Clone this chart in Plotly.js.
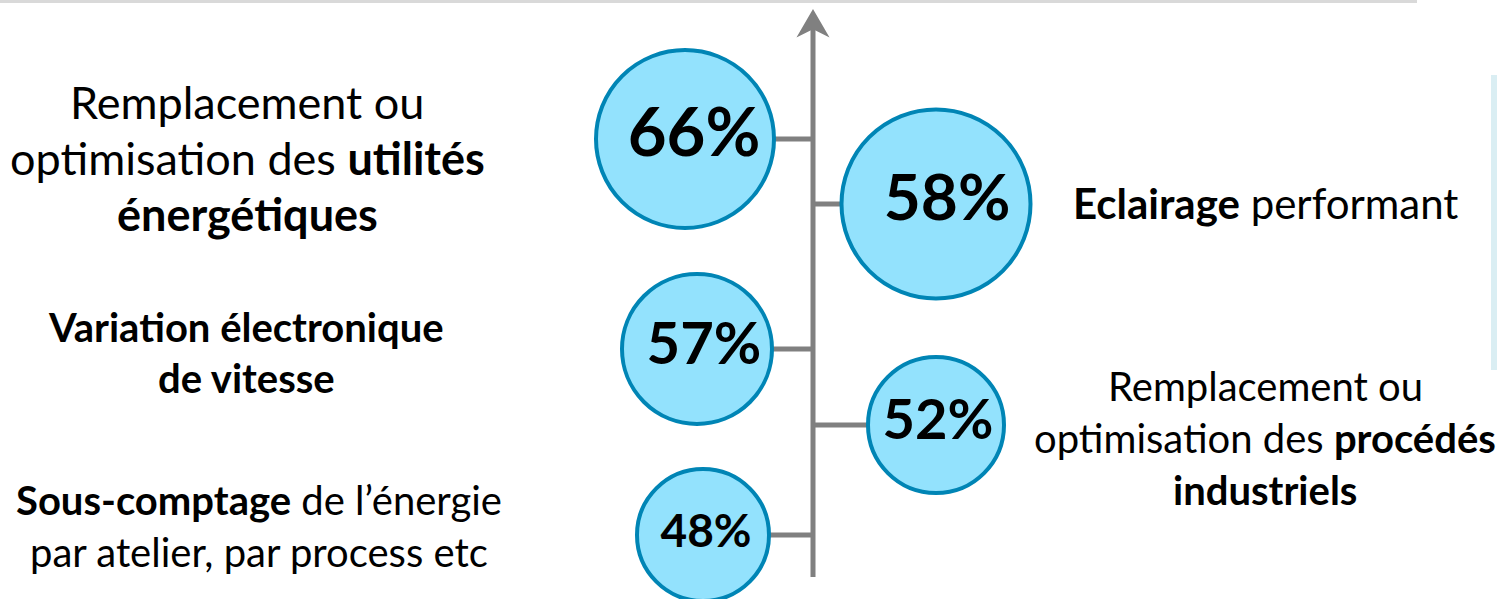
<!DOCTYPE html>
<html>
<head>
<meta charset="utf-8">
<script src="https://cdn.plot.ly/plotly-3.0.1.min.js"></script>
<style>
  html, body { margin: 0; padding: 0; background: #ffffff; }
  #chart { width: 1497px; height: 599px; }
</style>
</head>
<body>
<div id="chart"></div>
<script>
// ---- DATA ----
const categories = [
  "Remplacement ou optimisation des utilités énergétiques",
  "Eclairage performant",
  "Variation électronique de vitesse",
  "Remplacement ou optimisation des procédés industriels",
  "Sous-comptage de l’énergie par atelier, par process etc"
];
const values = [66, 58, 57, 52, 48];
const sides = ["left", "right", "left", "right", "left"];
const labelLines = [
  ["Remplacement ou", "optimisation des <b>utilités</b>", "<b>énergétiques</b>"],
  ["<b>Eclairage</b> performant"],
  ["<b>Variation électronique</b>", "<b>de vitesse</b>"],
  ["Remplacement ou", "optimisation des <b>procédés</b>", "<b>industriels</b>"],
  ["<b>Sous-comptage</b> de l’énergie", "par atelier, par process etc"]
];

// ---- LAYOUT / STYLE (not data) ----
const W = 1497, H = 599;
const axisX = 813;
const slotY = [139, 204, 349, 425, 535];          // vertical slot of each item
const circleX = [685, 936, 697, 936, 703];       // circle centre
const circleD = [178, 189, 150, 136, 132];       // marker diameter (px)
const pctSize = [67, 64, 58, 56, 46];            // % font size
const pctDx = [9, 11, 7, 2, 3];                  // % text offset
const labelX = [247, 1265, 246, 1265, 259];
const labelY = [158, 203, 352, 438, 526];
const labelSize = [45, 42, 40, 40, 40];
const lineGap = [56, 52, 51, 52, 52];

const circleFill = "#93E2FD";
const circleLine = "#0085B5";
const grey = "#808080";

// connectors (axis -> circle centre)
const cx = [], cy = [];
values.forEach((v, i) => {
  cx.push(axisX, circleX[i], null);
  cy.push(slotY[i], slotY[i], null);
});

const traces = [
  {
    type: "scatter", mode: "lines", x: cx, y: cy,
    line: { color: grey, width: 5 }, hoverinfo: "skip", showlegend: false
  },
  {
    type: "scatter", mode: "markers",
    x: circleX, y: slotY,
    marker: { size: circleD, color: circleFill, line: { color: circleLine, width: 4 }, opacity: 1 },
    hoverinfo: "skip", showlegend: false
  }
];
// percentage texts
values.forEach((v, i) => {
  traces.push({
    type: "scatter", mode: "text",
    x: [circleX[i] + pctDx[i]], y: [slotY[i]],
    text: ["<b>" + v + "%</b>"],
    textposition: "middle center",
    textfont: { family: "Lato, 'Open Sans', sans-serif", size: pctSize[i], color: "#000000" },
    hoverinfo: "skip", showlegend: false
  });
});

// category labels, one annotation per line
const annotations = [];
labelLines.forEach((lines, i) => {
  const n = lines.length;
  lines.forEach((t, j) => {
    annotations.push({
      xref: "x", yref: "y",
      x: labelX[i], y: labelY[i] + (j - (n - 1) / 2) * lineGap[i],
      text: t, showarrow: false, xanchor: "center", yanchor: "middle",
      font: { family: "Lato, 'Open Sans', sans-serif", size: labelSize[i], color: "#000000" }
    });
  });
});

const shapes = [
  // top thin rule
  { type: "line", xref: "x", yref: "y", x0: 0, x1: 1417, y0: 1.5, y1: 1.5,
    line: { color: "#D9D9D9", width: 3 }, layer: "below" },
  // right light-blue bar
  { type: "rect", xref: "x", yref: "y", x0: 1491, x1: 1497, y0: 75, y1: 370,
    fillcolor: "#DAEEF3", line: { width: 0 }, layer: "below" },
  // vertical axis shaft
  { type: "line", xref: "x", yref: "y", x0: axisX, x1: axisX, y0: 577, y1: 28,
    line: { color: grey, width: 5 }, layer: "below" },
  // arrow head
  { type: "path", xref: "x", yref: "y",
    path: `M ${axisX},11 L ${axisX + 14},35 L ${axisX},28 L ${axisX - 14},35 Z`,
    fillcolor: grey, line: { color: grey, width: 2 }, layer: "below" }
];

const layout = {
  width: W, height: H,
  margin: { l: 0, r: 0, t: 0, b: 0 },
  paper_bgcolor: "#ffffff", plot_bgcolor: "#ffffff",
  xaxis: { range: [0, W], visible: false, fixedrange: true },
  yaxis: { range: [H, 0], visible: false, fixedrange: true },
  showlegend: false,
  annotations: annotations,
  shapes: shapes
};

Plotly.newPlot("chart", traces, layout, { displayModeBar: false, staticPlot: true });
</script>
</body>
</html>
